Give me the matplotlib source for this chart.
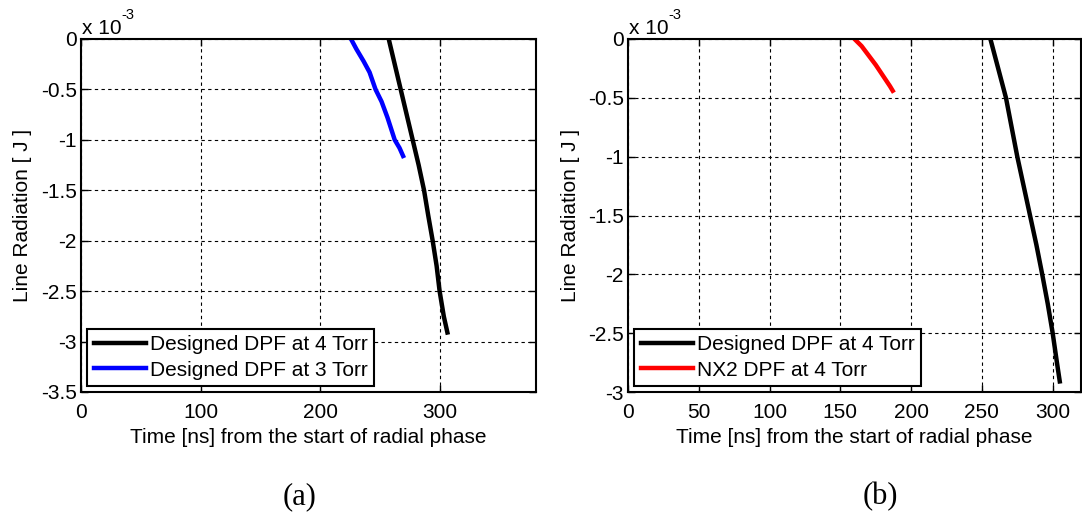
import numpy as np
import matplotlib.pyplot as plt
from matplotlib.ticker import FuncFormatter

plt.rcParams['font.family'] = ['Liberation Sans', 'DejaVu Sans']
plt.rcParams['axes.unicode_minus'] = False

# panel (a): line radiation [x 1e-3 J] vs time [ns]
t_a4 = [257, 262, 267, 272, 277, 282, 286.5, 290, 293.7, 297, 299.5, 303, 306]
e_a4 = [0.0, -0.25, -0.5, -0.75, -1.0, -1.25, -1.5, -1.75, -2.0, -2.25, -2.5, -2.75, -2.91]
t_a3 = [225.5, 230, 236, 241, 246, 251, 256, 262, 266, 269]
e_a3 = [0.0, -0.1, -0.22, -0.33, -0.5, -0.62, -0.78, -1.0, -1.08, -1.16]

# panel (b)
t_b4 = [256, 261.5, 267, 271, 275, 279.5, 284, 288.5, 292.6, 296.5, 300, 303, 305]
e_b4 = [0.0, -0.25, -0.5, -0.75, -1.0, -1.25, -1.5, -1.75, -2.0, -2.25, -2.5, -2.75, -2.91]
t_nx2 = [160, 165, 170, 175, 180, 185, 187]
e_nx2 = [0.0, -0.06, -0.14, -0.22, -0.31, -0.40, -0.44]

fs = 15

fig = plt.figure(figsize=(10.82, 5.2), dpi=100)
ax1 = fig.add_axes([81 / 1082, 128 / 520, 455 / 1082, 353 / 520])
ax2 = fig.add_axes([628 / 1082, 128 / 520, 453 / 1082, 353 / 520])

fmt = FuncFormatter(lambda v, p: ('%g' % v).replace('\u2212', '-'))

def style(ax, xlim, xticks, ylim, yticks):
    ax.set_xlim(*xlim)
    ax.set_ylim(*ylim)
    ax.set_xticks(xticks)
    ax.set_yticks(yticks)
    ax.yaxis.set_major_formatter(fmt)
    ax.xaxis.set_major_formatter(fmt)
    ax.grid(True, color='black', linestyle=(0, (3, 3)), linewidth=0.8)
    ax.tick_params(direction='in', top=True, right=True, labelsize=fs,
                   length=5, width=1)
    ax.tick_params(axis='x', pad=8)
    ax.tick_params(axis='y', pad=3)
    for s in ax.spines.values():
        s.set_linewidth(1.5)
    ax.set_xlabel('Time [ns] from the start of radial phase', fontsize=fs, labelpad=4)
    ax.set_ylabel('Line Radiation [ J ]', fontsize=fs, labelpad=6)
    # MATLAB-style exponent label above the y axis
    ax.annotate('x 10', xy=(0, 1), xycoords='axes fraction', xytext=(1, 1),
                textcoords='offset points', fontsize=fs, ha='left', va='bottom')
    ax.annotate('-3', xy=(0, 1), xycoords='axes fraction', xytext=(29, 12),
                textcoords='offset points', fontsize=10.5, ha='left', va='bottom')

ax1.plot(t_a4, e_a4, color='black', lw=3.2, label='Designed DPF at 4 Torr')
ax1.plot(t_a3, e_a3, color='blue', lw=3.2, label='Designed DPF at 3 Torr')
style(ax1, (0, 380), [0, 100, 200, 300], (-3.5, 0), np.arange(-3.5, 0.01, 0.5))

ax2.plot(t_b4, e_b4, color='black', lw=3.2, label='Designed DPF at 4 Torr')
ax2.plot(t_nx2, e_nx2, color='red', lw=3.2, label='NX2 DPF at 4 Torr')
style(ax2, (0, 320), [0, 50, 100, 150, 200, 250, 300], (-3, 0), np.arange(-3, 0.01, 0.5))

for ax in (ax1, ax2):
    leg = ax.legend(loc='lower left', fontsize=fs, fancybox=False, framealpha=1,
                    borderaxespad=0.3, handlelength=2.5, handletextpad=0.2,
                    borderpad=0.3, labelspacing=0.3)
    leg.get_frame().set_edgecolor('black')
    leg.get_frame().set_linewidth(1.5)

fig.text(300 / 1082, 1 - 497 / 520, '(a)', fontsize=22, family='Liberation Serif',
         ha='center', va='center')
fig.text(880 / 1082, 1 - 497 / 520, '(b)', fontsize=22, family='Liberation Serif',
         ha='center', va='center')

fig.savefig('out.png', dpi=100)
